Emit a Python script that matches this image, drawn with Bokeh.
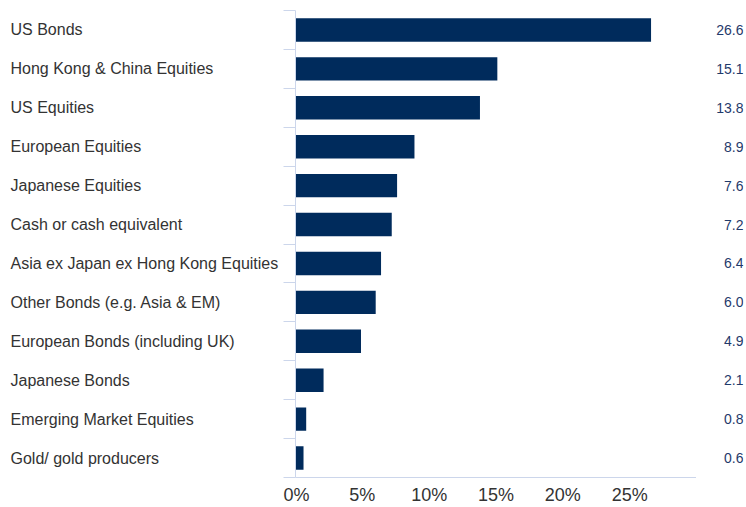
from bokeh.plotting import figure
from bokeh.layouts import row
from bokeh.models import (Range1d, FixedTicker, PrintfTickFormatter,
                          ColumnDataSource)
from bokeh.core.properties import value
from bokeh.embed import file_html
from bokeh.resources import INLINE

categories = [
    "US Bonds",
    "Hong Kong & China Equities",
    "US Equities",
    "European Equities",
    "Japanese Equities",
    "Cash or cash equivalent",
    "Asia ex Japan ex Hong Kong Equities",
    "Other Bonds (e.g. Asia & EM)",
    "European Bonds (including UK)",
    "Japanese Bonds",
    "Emerging Market Equities",
    "Gold/ gold producers",
]
values = [26.6, 15.1, 13.8, 8.9, 7.6, 7.2, 6.4, 6.0, 4.9, 2.1, 0.8, 0.6]
value_labels = [f"{v:.1f}" for v in values]
x_ticks = [0, 5, 10, 15, 20, 25]

BAR = "#002b5c"
AXIS = "#ccd6eb"
TXT = "#333333"
VAL = "#1f3a6b"
FONT = "Liberation Sans"

n = len(categories)
# category slots, first category on top
slot = [n - i - 0.5 for i in range(n)]
src = ColumnDataSource(dict(cat=categories, y=slot, val=values, lab=value_labels,
                            one=[1] * n, zero=[0] * n))

H = 507
TOP = 10
BOT = 30

def base(width, xr, **kw):
    f = figure(width=width, height=H, x_range=xr, y_range=Range1d(0, n),
               output_backend="svg", toolbar_location=None,
               x_axis_location=kw.pop("x_axis_location", None),
               y_axis_location=kw.pop("y_axis_location", None),
               min_border_top=TOP, min_border_bottom=BOT,
               min_border_left=kw.pop("left", 0),
               min_border_right=kw.pop("right", 0), **kw)
    f.outline_line_color = None
    f.grid.visible = False
    f.background_fill_color = "white"
    f.border_fill_color = "white"
    return f

# Left: category labels
pa = base(283, Range1d(0, 1))
pa.text(x="zero", y="y", text="cat", source=src, x_offset=10,
        text_align="left", text_baseline="middle",
        text_font=value(FONT), text_font_size="16px", text_color=TXT)

# Middle: bars
pb = base(413, Range1d(0, 30), x_axis_location="below",
          y_axis_location="left", left=12)
ya = pb.yaxis[0]
ya.ticker = FixedTicker(ticks=list(range(n + 1)))
ya.major_label_overrides = {i: "" for i in range(n + 1)}
ya.major_label_standoff = 0
ya.major_tick_in = 0
ya.major_tick_out = 12
ya.minor_tick_in = 0
ya.minor_tick_out = 0
ya.axis_line_color = AXIS
ya.major_tick_line_color = AXIS

xa = pb.xaxis[0]
xa.ticker = FixedTicker(ticks=x_ticks)
xa.formatter = PrintfTickFormatter(format="%d%%")
xa.major_tick_in = 0
xa.major_tick_out = 0
xa.minor_tick_in = 0
xa.minor_tick_out = 0
xa.axis_line_color = AXIS
xa.major_label_text_font = FONT
xa.major_label_text_font_size = "18px"
xa.major_label_text_color = TXT
xa.major_label_standoff = 7
pb.hbar(y="y", left=0, right="val", height=0.6, source=src,
        fill_color=BAR, line_color=None)

# Right: value labels
pc = base(50, Range1d(0, 1), right=3)
pc.text(x="one", y="y", text="lab", source=src,
        text_align="right", text_baseline="middle",
        text_font=value(FONT), text_font_size="14px", text_color=VAL)

layout = row(pa, pb, pc)
open("out.html", "w").write(file_html(layout, INLINE))
